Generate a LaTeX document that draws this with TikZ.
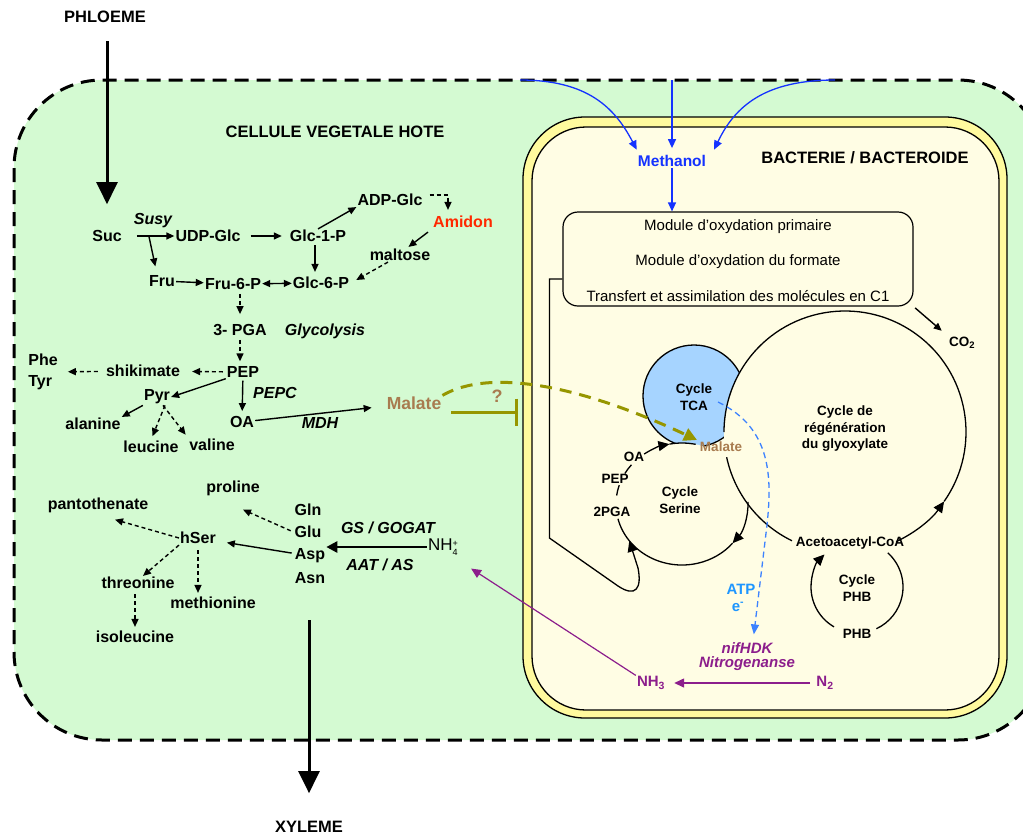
\documentclass[tikz,border=0pt]{standalone}
\usepackage{fontspec}
\setmainfont{Liberation Sans}
\usetikzlibrary{arrows.meta,positioning,calc}
\definecolor{CellGreen}{HTML}{D4FAD2}
\definecolor{WallYellow}{HTML}{FFFA9E}
\definecolor{BactCream}{HTML}{FFFDE4}
\definecolor{TcaBlue}{HTML}{A6D4FF}
\definecolor{MethBlue}{HTML}{1432FF}
\definecolor{AtpBlue}{HTML}{1E96FF}
\definecolor{AtpLine}{HTML}{3C82FF}
\definecolor{StarchRed}{HTML}{FF2800}
\definecolor{MalBrown}{HTML}{A87B4F}
\definecolor{Olive}{HTML}{969600}
\definecolor{NitPurple}{HTML}{8C1E8C}
\tikzset{
  lbl/.style={font=\fontsize{16}{21}\selectfont\bfseries,inner sep=1pt},
  enz/.style={font=\fontsize{16}{21}\selectfont\bfseries\itshape,inner sep=1pt},
  ttl/.style={font=\fontsize{16.5}{20}\selectfont\bfseries,inner sep=1pt},
  cyc/.style={font=\fontsize{13.5}{16.5}\selectfont\bfseries,align=center,inner sep=1pt},
  modtxt/.style={font=\fontsize{15}{18}\selectfont,inner sep=1pt},
  nitlbl/.style={font=\fontsize{15}{16}\selectfont\bfseries,text=NitPurple,inner sep=1pt},
  pw/.style={-{Triangle[length=8pt,width=7pt]},line width=1.4pt},
  pwd/.style={pw,dash pattern=on 4pt off 3pt},
  pwb/.style={pw,{Triangle[length=8pt,width=7pt]}-{Triangle[length=8pt,width=7pt]}},
  nhflow/.style={-{Triangle[length=11pt,width=11pt]},line width=2.6pt},
  flux/.style={-{Triangle[length=22pt,width=21pt]},line width=3pt},
  cyl/.style={line width=1.3pt},
  cya/.style={cyl,-{Triangle[length=11pt,width=10pt]}},
  methflow/.style={-{Triangle[length=9pt,width=8pt]},line width=1.3pt,draw=MethBlue},
  nitflow/.style={-{Triangle[length=10pt,width=9pt]},line width=1.4pt,draw=NitPurple},
  atpflow/.style={-{Triangle[length=10pt,width=8pt]},line width=1.3pt,draw=AtpLine,dash pattern=on 6pt off 4pt},
  olvflow/.style={-{Triangle[length=13pt,width=13pt]},line width=3pt,draw=Olive,dash pattern=on 12pt off 8pt}
}
\begin{document}
\begin{tikzpicture}[x=1pt,y=-1pt]
  \useasboundingbox (0,0) rectangle (1023,836);
  \clip (0,0) rectangle (1023,836);

  % host cell and bacteroid
  \draw[fill=CellGreen,line width=3pt,dash pattern=on 14pt off 8pt,rounded corners=88pt] (14,80) rectangle (1046,740);
  \draw[fill=WallYellow,line width=1.3pt,rounded corners=62pt] (523,117) rectangle (1007,718);
  \draw[fill=BactCream,line width=1.3pt,rounded corners=54pt] (532,127) rectangle (999,710);

  \node[ttl] (phl) at (105,17) {PHLOEME};
  \node[ttl] (xyl) at (309,827) {XYLEME};
  \node[ttl] (cell) at (335,132) {CELLULE VEGETALE HOTE};
  \node[ttl] (bact) at (865,158) {BACTERIE / BACTEROIDE};

  % sugars
  \node[lbl] (suc) at (107,236) {Suc};
  \node[enz] (susy) at (153,221) {Susy};
  \node[lbl] (udp) at (208,236) {UDP-Glc};
  \node[lbl] (g1p) at (318,236) {Glc-1-P};
  \node[lbl] (adp) at (390,200) {ADP-Glc};
  \node[lbl,text=StarchRed] (amid) at (463,222) {Amidon};
  \node[lbl] (malt) at (400,255) {maltose};
  \node[lbl] (fru) at (162,281) {Fru};
  \node[lbl] (f6p) at (233,284) {Fru-6-P};
  \node[lbl] (g6p) at (321,283) {Glc-6-P};
  \node[lbl] (pga) at (240,330) {3- PGA};
  \node[enz] (glyc) at (325,331) {Glycolysis};
  \node[lbl] (pep) at (243,372) {PEP};
  \node[lbl] (shik) at (143,371) {shikimate};
  \node[lbl,align=left] (phty) at (43,372) {Phe\\Tyr};
  \node[lbl] (pyr) at (157,397) {Pyr};
  \node[enz] (pepc) at (275,393) {PEPC};
  \node[lbl] (oa) at (242,422) {OA};
  \node[enz] (mdh) at (320,423) {MDH};
  \node[lbl] (ala) at (93,424) {alanine};
  \node[lbl] (leu) at (151,447) {leucine};
  \node[lbl] (val) at (212,445) {valine};
  \node[font=\fontsize{17.5}{20}\selectfont\bfseries,text=MalBrown,inner sep=1pt] (malh) at (414,403) {Malate};
  \node[font=\fontsize{18}{20}\selectfont\bfseries,text=MalBrown,inner sep=1pt] (qm) at (497,396) {?};

  \draw[flux,shorten <=17pt,shorten >=25pt] (phl.south -| suc.north) -- (suc.north);
  \draw[pw,shorten <=14pt] (suc) -- (udp);
  \draw[pw,shorten >=8pt] ([xshift=26pt]suc.east) -- ([xshift=-5pt]fru.north);
  \draw[pw,shorten <=9pt,shorten >=7pt] (udp) -- (g1p);
  \draw[pw] (g1p.north) -- (adp.south west);
  \draw[pwd,shorten >=5pt] ([shift={(6,-5)}]adp.east) -| ([xshift=-15pt]amid.north);
  \draw[pw] ([shift={(-4,3)}]amid.south west) -- ([shift={(-23,-1)}]malt.north east);
  \draw[pwd] ([xshift=-12pt]malt.south) -- ([shift={(6,-3)}]g6p.east);
  \draw[pw,shorten <=2pt,shorten >=4pt] ([xshift=-3pt]g1p.south) -- ([xshift=-3pt]g1p.south |- g6p.north);
  \draw[pw] (fru) -- (f6p);
  \draw[pwb] (f6p) -- (g6p);
  \draw[pwd,shorten <=3pt,shorten >=9pt] (f6p.south -| pga.north) -- (pga.north);
  \draw[pwd,shorten <=3pt,shorten >=4pt] (pga.south) -- (pga.south |- pep.north);
  \draw[pwd,shorten <=3pt,shorten >=11pt] (pep) -- (shik);
  \draw[pwd,shorten <=7pt,shorten >=9pt] (shik) -- (phty);
  \draw[pw] (pep.south west) -- (pyr.east);
  \draw[pw,shorten <=2pt,shorten >=4pt] (pep) -- (oa);
  \draw[pw] (pyr.south west) -- (ala.north east);
  \draw[pwd,shorten >=4pt] ([xshift=8pt]pyr.south) -- (leu.north);
  \draw[pwd,shorten >=4pt] ([xshift=6pt]pyr.south) -- (val.north west);
  \draw[pw,shorten >=14pt] (oa) -- (malh);

  % amino acids
  \node[lbl] (prol) at (233,488) {proline};
  \node[lbl] (pant) at (98,505) {pantothenate};
  \node[lbl] (gln) at (308,510) {Gln};
  \node[lbl] (glu) at (308,532) {Glu};
  \node[lbl] (hser) at (198,538) {hSer};
  \node[lbl] (asp) at (310,556) {Asp};
  \node[lbl] (asn) at (310,578) {Asn};
  \node[enz] (gs) at (388,528) {GS / GOGAT};
  \node[enz] (aat) at (380,565) {AAT / AS};
  \node[font=\fontsize{17}{20}\selectfont,inner sep=1pt] (nh4) at (443,547) {NH\raisebox{-5pt}{\fontsize{9}{10.5}\selectfont\shortstack[l]{+\\4}}};
  \node[lbl] (thr) at (138,583) {threonine};
  \node[lbl] (met) at (213,603) {methionine};
  \node[lbl] (ile) at (135,637) {isoleucine};

  \draw[pwd,shorten <=3pt] (glu.west) -- ([shift={(10,13)}]prol.south);
  \draw[pwd] (hser.west) -- ([shift={(17,6)}]pant.south);
  \draw[pw,shorten <=2pt,shorten >=10pt] (asp) -- (hser);
  \draw[nhflow] (nh4.west) -- (nh4.west -| asp.east);
  \draw[pwd] (hser.south west) -- ([xshift=5pt]thr.north);
  \draw[pwd,shorten <=5pt,shorten >=3pt] (hser.south) -- (hser.south |- met.north);
  \draw[pwd,shorten <=4pt,shorten >=3pt] (thr.south -| ile.north) -- (ile.north);
  \coordinate (xylsrc) at (309,620);
  \draw[flux,shorten >=27pt] (xylsrc) -- (xyl.north);

  % methanol
  \coordinate (ms1) at (520,80);
  \coordinate (ms2) at (672,80);
  \coordinate (ms3) at (835,80);
  \node[font=\fontsize{15.5}{18}\selectfont\bfseries,text=MethBlue,inner sep=1pt] (meth) at (672,161) {Methanol};
  \draw[methflow,shorten >=5pt] (ms1) .. controls (588,80) and (615,108) .. ([xshift=-33pt]meth.north);
  \draw[methflow,shorten >=6pt] (ms2) -- (meth.north);
  \draw[methflow,shorten >=5pt] (ms3) .. controls (765,80) and (735,106) .. ([xshift=40pt]meth.north);

  \node[draw,line width=1.2pt,rounded corners=15pt,minimum width=350pt,minimum height=94pt] (modbox) at (738,259) {};
  \node[modtxt] (m1) at (738,227) {Module d’oxydation primaire};
  \node[modtxt] (m2) at (738,262) {Module d’oxydation du formate};
  \node[modtxt] (m3) at (738,296) {Transfert et assimilation des molécules en C1};
  \draw[methflow] (meth.south) -- (meth.south |- modbox.north);
  \node[cyc] (co2) at (962,343) {CO\textsubscript{2}};
  \draw[pw,shorten <=2pt,shorten >=8pt] (modbox.south east) -- (co2.north west);

  % cycles
  \coordinate (tca) at (694,396);
  \coordinate (ser) at (682,504);
  \coordinate (gly) at (845,432);
  \coordinate (phb) at (857,587);
  \draw[cyl,fill=TcaBlue] (tca) circle (51);
  \fill[BactCream] (ser) ellipse [x radius=66,y radius=61];
  \fill[BactCream] (gly) circle (121);

  \draw[cya] ($(gly)+(65:121)$) arc[start angle=65,end angle=35,radius=121];
  \draw[cyl] ($(gly)+(35:121)$) arc[start angle=35,end angle=-180,radius=121];
  \draw[cyl] ($(gly)+(168:121)$) arc[start angle=168,end angle=116,radius=121];

  \draw[cya] ($(ser)+(-125:66 and 61)$) arc[start angle=-125,end angle=-101,x radius=66,y radius=61];
  \draw[cyl] ($(ser)+(-101:66 and 61)$) arc[start angle=-101,end angle=-78,x radius=66,y radius=61];
  \draw[cyl] ($(ser)+(-150:66 and 61)$) arc[start angle=-150,end angle=-140,x radius=66,y radius=61];
  \draw[cyl] ($(ser)+(-172:66 and 61)$) arc[start angle=-172,end angle=-162,x radius=66,y radius=61];
  \draw[cyl] ($(ser)+(166:66 and 61)$) arc[start angle=166,end angle=40,x radius=66,y radius=61];
  \draw[cya] ($(ser)+(-2:66 and 61)$) arc[start angle=-2,end angle=40,x radius=66,y radius=61];

  \draw[cya] ($(phb)+(120:46)$) arc[start angle=120,end angle=225,radius=46];
  \draw[cyl] ($(phb)+(-48:46)$) arc[start angle=-48,end angle=65,radius=46];

  \coordinate (serin) at ($(ser)+(143:66 and 61)$);
  \draw[cya] ([yshift=-20pt]modbox.west) -- ++(-13,0) -- ++(0,259) -- (618,586) .. controls (636,598) and (642,588) .. (638,568) -- (serin);

  \node[cyc] (tcalbl) at (694,397) {Cycle\\TCA};
  \node[cyc] (serlbl) at (680,500) {Cycle\\Serine};
  \node[cyc] (glylbl) at (845,429) {Cycle de\\régénération\\du glyoxylate};
  \node[cyc] (phblbl) at (857,588) {Cycle\\PHB};
  \node[cyc] (oa2) at (634,457) {OA};
  \node[cyc] (pep2) at (615,479) {PEP};
  \node[cyc] (pga2) at (612,512) {2PGA};
  \node[cyc,text=MalBrown] (mals) at (721,447) {Malate};
  \node[cyc] (acac) at (850,543) {Acetoacetyl-CoA};
  \node[cyc] (phbp) at (857,634) {PHB};

  % malate transfer
  \draw[olvflow,shorten >=2pt] (malh.north east) .. controls (490,368) and (580,385) .. (mals.north west);
  \draw[line width=3pt,draw=Olive,-{Bar[width=27pt,line width=3pt]}] ([shift={(9,9)}]malh.east) -- ++(67,0);

  % nitrogen fixation
  \coordinate (atps) at (718,402);
  \node[font=\fontsize{15}{16}\selectfont\bfseries\itshape,text=NitPurple,inner sep=1pt] (nif) at (747,648) {nifHDK};
  \node[font=\fontsize{15}{16}\selectfont\bfseries\itshape,text=NitPurple,inner sep=1pt] (nitro) at (747,664) {Nitrogenanse};
  \node[font=\fontsize{15}{17}\selectfont\bfseries,text=AtpBlue,inner sep=1pt] (atp) at (741,589) {ATP};
  \node[font=\fontsize{15}{17}\selectfont\bfseries,text=AtpBlue,inner sep=1pt] (elec) at (738,607) {e\textsuperscript{-}};
  \draw[atpflow,shorten >=7pt] (atps) .. controls (772,428) and (772,478) .. (767,525) -- ([xshift=6pt]nif.north);
  \node[nitlbl] (nh3) at (651,683) {NH\textsubscript{3}};
  \node[nitlbl] (n2) at (825,683) {N\textsubscript{2}};
  \draw[nitflow,shorten <=5pt,shorten >=8pt] (n2) -- (nh3);
  \draw[nitflow,line width=1.2pt] (nh3.north west) -- ([shift={(12,12)}]nh4.south east);
\end{tikzpicture}
\end{document}
